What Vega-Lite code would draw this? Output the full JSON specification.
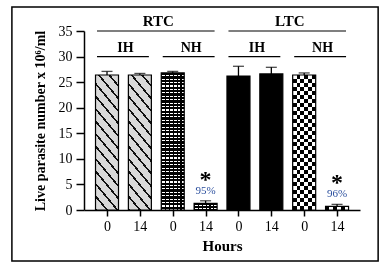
{
  "$schema": "https://vega.github.io/schema/vega-lite/v6.json",
  "width": 276,
  "height": 179,
  "autosize": "none",
  "padding": {"left": 84, "top": 31, "right": 27, "bottom": 57},
  "background": "white",
  "config": {
    "view": {"stroke": null},
    "font": "Liberation Serif",
    "axis": {
      "domainColor": "black", "domainWidth": 1.5, "tickColor": "black", "tickWidth": 1.5,
      "labelColor": "black", "labelFont": "Liberation Serif", "labelFontSize": 14,
      "titleFont": "Liberation Serif", "titleFontWeight": "bold", "titleColor": "black",
      "grid": false, "labelFlush": false, "labelOverlap": false
    }
  },
  "datasets": {
    "bars": [
      {"pos": 1, "site": "RTC", "grp": "IH", "hours": 0, "val": 26.4, "upper": 27.1},
      {"pos": 2, "site": "RTC", "grp": "IH", "hours": 14, "val": 26.4, "upper": 26.7},
      {"pos": 3, "site": "RTC", "grp": "NH", "hours": 0, "val": 26.8, "upper": 27.1},
      {"pos": 4, "site": "RTC", "grp": "NH", "hours": 14, "val": 1.3, "upper": 1.8, "note": "95%"},
      {"pos": 5, "site": "LTC", "grp": "IH", "hours": 0, "val": 26.2, "upper": 28.1},
      {"pos": 6, "site": "LTC", "grp": "IH", "hours": 14, "val": 26.6, "upper": 27.9},
      {"pos": 7, "site": "LTC", "grp": "NH", "hours": 0, "val": 26.4, "upper": 26.8},
      {"pos": 8, "site": "LTC", "grp": "NH", "hours": 14, "val": 0.7, "upper": 1.1, "note": "96%"}
    ],
    "headers": [
      {"label": "RTC", "level": "top", "pos": 1, "pos2": 4, "mid": 2.5, "val": 35},
      {"label": "LTC", "level": "top", "pos": 5, "pos2": 8, "mid": 6.5, "val": 35},
      {"label": "IH", "level": "sub", "pos": 1, "pos2": 2, "mid": 1.5, "val": 30},
      {"label": "NH", "level": "sub", "pos": 3, "pos2": 4, "mid": 3.5, "val": 30},
      {"label": "IH", "level": "sub", "pos": 5, "pos2": 6, "mid": 5.5, "val": 30},
      {"label": "NH", "level": "sub", "pos": 7, "pos2": 8, "mid": 7.5, "val": 30}
    ],
    "frame": [
      {"pos": -1.894, "pos2": 9.25, "val": -9.97, "val2": 39.69}
    ]
  },
  "layer": [
    {
      "data": {"name": "frame"},
      "mark": {"type": "rect", "filled": false, "stroke": "black", "strokeWidth": 1.5},
      "encoding": {
        "x": {"field": "pos", "type": "quantitative", "scale": {"domain": [0.452, 8.546]}, "axis": {"title": "Hours", "titleFontSize": 15, "titlePadding": 5, "values": [1, 2, 3, 4, 5, 6, 7, 8], "labelExpr": "datum.value % 2 == 1 ? '0' : '14'", "tickSize": 6, "labelPadding": 3}},
        "x2": {"field": "pos2"},
        "y": {"field": "val", "type": "quantitative", "scale": {"domain": [0, 35], "nice": false}, "axis": {"title": "Live parasite number x 10⁶/ml", "titleFontSize": 14, "titlePadding": 11, "values": [0, 5, 10, 15, 20, 25, 30, 35], "tickSize": 8, "labelPadding": 4}},
        "y2": {"field": "val2"}
      }
    },
    {
      "data": {"name": "bars"},
      "transform": [{"filter": "datum.site == 'RTC' && datum.grp == 'IH'"}],
      "mark": {"type": "bar", "width": 23, "fill": {
        "gradient": "linear", "x1": 0, "y1": 1, "x2": 0.2364, "y2": -0.1561,
        "stops": [
          {"offset": 0, "color": "#111"}, {"offset": 0.016, "color": "#111"}, {"offset": 0.016, "color": "#d9d9d9"}, {"offset": 0.07692, "color": "#d9d9d9"},
          {"offset": 0.07692, "color": "#111"}, {"offset": 0.09292, "color": "#111"}, {"offset": 0.09292, "color": "#d9d9d9"}, {"offset": 0.15385, "color": "#d9d9d9"},
          {"offset": 0.15385, "color": "#111"}, {"offset": 0.16985, "color": "#111"}, {"offset": 0.16985, "color": "#d9d9d9"}, {"offset": 0.23077, "color": "#d9d9d9"},
          {"offset": 0.23077, "color": "#111"}, {"offset": 0.24677, "color": "#111"}, {"offset": 0.24677, "color": "#d9d9d9"}, {"offset": 0.30769, "color": "#d9d9d9"},
          {"offset": 0.30769, "color": "#111"}, {"offset": 0.32369, "color": "#111"}, {"offset": 0.32369, "color": "#d9d9d9"}, {"offset": 0.38462, "color": "#d9d9d9"},
          {"offset": 0.38462, "color": "#111"}, {"offset": 0.40062, "color": "#111"}, {"offset": 0.40062, "color": "#d9d9d9"}, {"offset": 0.46154, "color": "#d9d9d9"},
          {"offset": 0.46154, "color": "#111"}, {"offset": 0.47754, "color": "#111"}, {"offset": 0.47754, "color": "#d9d9d9"}, {"offset": 0.53846, "color": "#d9d9d9"},
          {"offset": 0.53846, "color": "#111"}, {"offset": 0.55446, "color": "#111"}, {"offset": 0.55446, "color": "#d9d9d9"}, {"offset": 0.61538, "color": "#d9d9d9"},
          {"offset": 0.61538, "color": "#111"}, {"offset": 0.63138, "color": "#111"}, {"offset": 0.63138, "color": "#d9d9d9"}, {"offset": 0.69231, "color": "#d9d9d9"},
          {"offset": 0.69231, "color": "#111"}, {"offset": 0.70831, "color": "#111"}, {"offset": 0.70831, "color": "#d9d9d9"}, {"offset": 0.76923, "color": "#d9d9d9"},
          {"offset": 0.76923, "color": "#111"}, {"offset": 0.78523, "color": "#111"}, {"offset": 0.78523, "color": "#d9d9d9"}, {"offset": 0.84615, "color": "#d9d9d9"},
          {"offset": 0.84615, "color": "#111"}, {"offset": 0.86215, "color": "#111"}, {"offset": 0.86215, "color": "#d9d9d9"}, {"offset": 0.92308, "color": "#d9d9d9"},
          {"offset": 0.92308, "color": "#111"}, {"offset": 0.93908, "color": "#111"}, {"offset": 0.93908, "color": "#d9d9d9"}, {"offset": 1, "color": "#d9d9d9"}
        ]
      }},
      "encoding": {
        "x": {"field": "pos", "type": "quantitative", "scale": {"domain": [0.452, 8.546]}, "axis": {"title": "Hours", "titleFontSize": 15, "titlePadding": 5, "values": [1, 2, 3, 4, 5, 6, 7, 8], "labelExpr": "datum.value % 2 == 1 ? '0' : '14'", "tickSize": 6, "labelPadding": 3}},
        "y": {"field": "val", "type": "quantitative", "scale": {"domain": [0, 35], "nice": false}, "axis": {"title": "Live parasite number x 10⁶/ml", "titleFontSize": 14, "titlePadding": 11, "values": [0, 5, 10, 15, 20, 25, 30, 35], "tickSize": 8, "labelPadding": 4}}
      }
    },
    {
      "data": {"name": "bars"},
      "transform": [{"filter": "datum.pos == 3"}],
      "mark": {"type": "bar", "width": 23, "fill": {
        "gradient": "linear", "x1": 0, "y1": 0, "x2": 0, "y2": 1,
        "stops": [
          {"offset": 0, "color": "#000"}, {"offset": 0.0165, "color": "#000"}, {"offset": 0.0165, "color": "#fff"}, {"offset": 0.025, "color": "#fff"},
          {"offset": 0.025, "color": "#000"}, {"offset": 0.0415, "color": "#000"}, {"offset": 0.0415, "color": "#fff"}, {"offset": 0.05, "color": "#fff"},
          {"offset": 0.05, "color": "#000"}, {"offset": 0.0665, "color": "#000"}, {"offset": 0.0665, "color": "#fff"}, {"offset": 0.075, "color": "#fff"},
          {"offset": 0.075, "color": "#000"}, {"offset": 0.0915, "color": "#000"}, {"offset": 0.0915, "color": "#fff"}, {"offset": 0.1, "color": "#fff"},
          {"offset": 0.1, "color": "#000"}, {"offset": 0.1165, "color": "#000"}, {"offset": 0.1165, "color": "#fff"}, {"offset": 0.125, "color": "#fff"},
          {"offset": 0.125, "color": "#000"}, {"offset": 0.1415, "color": "#000"}, {"offset": 0.1415, "color": "#fff"}, {"offset": 0.15, "color": "#fff"},
          {"offset": 0.15, "color": "#000"}, {"offset": 0.1665, "color": "#000"}, {"offset": 0.1665, "color": "#fff"}, {"offset": 0.175, "color": "#fff"},
          {"offset": 0.175, "color": "#000"}, {"offset": 0.1915, "color": "#000"}, {"offset": 0.1915, "color": "#fff"}, {"offset": 0.2, "color": "#fff"},
          {"offset": 0.2, "color": "#000"}, {"offset": 0.2165, "color": "#000"}, {"offset": 0.2165, "color": "#fff"}, {"offset": 0.225, "color": "#fff"},
          {"offset": 0.225, "color": "#000"}, {"offset": 0.2415, "color": "#000"}, {"offset": 0.2415, "color": "#fff"}, {"offset": 0.25, "color": "#fff"},
          {"offset": 0.25, "color": "#000"}, {"offset": 0.2665, "color": "#000"}, {"offset": 0.2665, "color": "#fff"}, {"offset": 0.275, "color": "#fff"},
          {"offset": 0.275, "color": "#000"}, {"offset": 0.2915, "color": "#000"}, {"offset": 0.2915, "color": "#fff"}, {"offset": 0.3, "color": "#fff"},
          {"offset": 0.3, "color": "#000"}, {"offset": 0.3165, "color": "#000"}, {"offset": 0.3165, "color": "#fff"}, {"offset": 0.325, "color": "#fff"},
          {"offset": 0.325, "color": "#000"}, {"offset": 0.3415, "color": "#000"}, {"offset": 0.3415, "color": "#fff"}, {"offset": 0.35, "color": "#fff"},
          {"offset": 0.35, "color": "#000"}, {"offset": 0.3665, "color": "#000"}, {"offset": 0.3665, "color": "#fff"}, {"offset": 0.375, "color": "#fff"},
          {"offset": 0.375, "color": "#000"}, {"offset": 0.3915, "color": "#000"}, {"offset": 0.3915, "color": "#fff"}, {"offset": 0.4, "color": "#fff"},
          {"offset": 0.4, "color": "#000"}, {"offset": 0.4165, "color": "#000"}, {"offset": 0.4165, "color": "#fff"}, {"offset": 0.425, "color": "#fff"},
          {"offset": 0.425, "color": "#000"}, {"offset": 0.4415, "color": "#000"}, {"offset": 0.4415, "color": "#fff"}, {"offset": 0.45, "color": "#fff"},
          {"offset": 0.45, "color": "#000"}, {"offset": 0.4665, "color": "#000"}, {"offset": 0.4665, "color": "#fff"}, {"offset": 0.475, "color": "#fff"},
          {"offset": 0.475, "color": "#000"}, {"offset": 0.4915, "color": "#000"}, {"offset": 0.4915, "color": "#fff"}, {"offset": 0.5, "color": "#fff"},
          {"offset": 0.5, "color": "#000"}, {"offset": 0.5165, "color": "#000"}, {"offset": 0.5165, "color": "#fff"}, {"offset": 0.525, "color": "#fff"},
          {"offset": 0.525, "color": "#000"}, {"offset": 0.5415, "color": "#000"}, {"offset": 0.5415, "color": "#fff"}, {"offset": 0.55, "color": "#fff"},
          {"offset": 0.55, "color": "#000"}, {"offset": 0.5665, "color": "#000"}, {"offset": 0.5665, "color": "#fff"}, {"offset": 0.575, "color": "#fff"},
          {"offset": 0.575, "color": "#000"}, {"offset": 0.5915, "color": "#000"}, {"offset": 0.5915, "color": "#fff"}, {"offset": 0.6, "color": "#fff"},
          {"offset": 0.6, "color": "#000"}, {"offset": 0.6165, "color": "#000"}, {"offset": 0.6165, "color": "#fff"}, {"offset": 0.625, "color": "#fff"},
          {"offset": 0.625, "color": "#000"}, {"offset": 0.6415, "color": "#000"}, {"offset": 0.6415, "color": "#fff"}, {"offset": 0.65, "color": "#fff"},
          {"offset": 0.65, "color": "#000"}, {"offset": 0.6665, "color": "#000"}, {"offset": 0.6665, "color": "#fff"}, {"offset": 0.675, "color": "#fff"},
          {"offset": 0.675, "color": "#000"}, {"offset": 0.6915, "color": "#000"}, {"offset": 0.6915, "color": "#fff"}, {"offset": 0.7, "color": "#fff"},
          {"offset": 0.7, "color": "#000"}, {"offset": 0.7165, "color": "#000"}, {"offset": 0.7165, "color": "#fff"}, {"offset": 0.725, "color": "#fff"},
          {"offset": 0.725, "color": "#000"}, {"offset": 0.7415, "color": "#000"}, {"offset": 0.7415, "color": "#fff"}, {"offset": 0.75, "color": "#fff"},
          {"offset": 0.75, "color": "#000"}, {"offset": 0.7665, "color": "#000"}, {"offset": 0.7665, "color": "#fff"}, {"offset": 0.775, "color": "#fff"},
          {"offset": 0.775, "color": "#000"}, {"offset": 0.7915, "color": "#000"}, {"offset": 0.7915, "color": "#fff"}, {"offset": 0.8, "color": "#fff"},
          {"offset": 0.8, "color": "#000"}, {"offset": 0.8165, "color": "#000"}, {"offset": 0.8165, "color": "#fff"}, {"offset": 0.825, "color": "#fff"},
          {"offset": 0.825, "color": "#000"}, {"offset": 0.8415, "color": "#000"}, {"offset": 0.8415, "color": "#fff"}, {"offset": 0.85, "color": "#fff"},
          {"offset": 0.85, "color": "#000"}, {"offset": 0.8665, "color": "#000"}, {"offset": 0.8665, "color": "#fff"}, {"offset": 0.875, "color": "#fff"},
          {"offset": 0.875, "color": "#000"}, {"offset": 0.8915, "color": "#000"}, {"offset": 0.8915, "color": "#fff"}, {"offset": 0.9, "color": "#fff"},
          {"offset": 0.9, "color": "#000"}, {"offset": 0.9165, "color": "#000"}, {"offset": 0.9165, "color": "#fff"}, {"offset": 0.925, "color": "#fff"},
          {"offset": 0.925, "color": "#000"}, {"offset": 0.9415, "color": "#000"}, {"offset": 0.9415, "color": "#fff"}, {"offset": 0.95, "color": "#fff"},
          {"offset": 0.95, "color": "#000"}, {"offset": 0.9665, "color": "#000"}, {"offset": 0.9665, "color": "#fff"}, {"offset": 0.975, "color": "#fff"},
          {"offset": 0.975, "color": "#000"}, {"offset": 0.9915, "color": "#000"}, {"offset": 0.9915, "color": "#fff"}, {"offset": 1, "color": "#fff"}
        ]
      }},
      "encoding": {
        "x": {"field": "pos", "type": "quantitative", "scale": {"domain": [0.452, 8.546]}, "axis": {"title": "Hours", "titleFontSize": 15, "titlePadding": 5, "values": [1, 2, 3, 4, 5, 6, 7, 8], "labelExpr": "datum.value % 2 == 1 ? '0' : '14'", "tickSize": 6, "labelPadding": 3}},
        "y": {"field": "val", "type": "quantitative", "scale": {"domain": [0, 35], "nice": false}, "axis": {"title": "Live parasite number x 10⁶/ml", "titleFontSize": 14, "titlePadding": 11, "values": [0, 5, 10, 15, 20, 25, 30, 35], "tickSize": 8, "labelPadding": 4}}
      }
    },
    {
      "data": {"name": "bars"},
      "transform": [{"filter": "datum.pos == 4"}],
      "mark": {"type": "bar", "width": 23, "fill": {
        "gradient": "linear", "x1": 0, "y1": 0, "x2": 0, "y2": 1,
        "stops": [
          {"offset": 0, "color": "#000"}, {"offset": 0.25, "color": "#000"}, {"offset": 0.25, "color": "#fff"}, {"offset": 0.42, "color": "#fff"},
          {"offset": 0.42, "color": "#000"}, {"offset": 0.68, "color": "#000"}, {"offset": 0.68, "color": "#fff"}, {"offset": 0.84, "color": "#fff"},
          {"offset": 0.84, "color": "#000"}, {"offset": 1, "color": "#000"}
        ]
      }},
      "encoding": {
        "x": {"field": "pos", "type": "quantitative", "scale": {"domain": [0.452, 8.546]}, "axis": {"title": "Hours", "titleFontSize": 15, "titlePadding": 5, "values": [1, 2, 3, 4, 5, 6, 7, 8], "labelExpr": "datum.value % 2 == 1 ? '0' : '14'", "tickSize": 6, "labelPadding": 3}},
        "y": {"field": "val", "type": "quantitative", "scale": {"domain": [0, 35], "nice": false}, "axis": {"title": "Live parasite number x 10⁶/ml", "titleFontSize": 14, "titlePadding": 11, "values": [0, 5, 10, 15, 20, 25, 30, 35], "tickSize": 8, "labelPadding": 4}}
      }
    },
    {
      "data": {"name": "bars"},
      "transform": [{"filter": "datum.site == 'RTC' && datum.grp == 'NH'"}],
      "mark": {"type": "bar", "width": 23, "fill": {
        "gradient": "linear", "x1": 0, "y1": 0, "x2": 1, "y2": 0,
        "stops": [
          {"offset": 0, "color": "#000"}, {"offset": 0.05, "color": "#000"}, {"offset": 0.05, "color": "rgba(0,0,0,0)"}, {"offset": 0.16667, "color": "rgba(0,0,0,0)"},
          {"offset": 0.16667, "color": "#000"}, {"offset": 0.21667, "color": "#000"}, {"offset": 0.21667, "color": "rgba(0,0,0,0)"}, {"offset": 0.33333, "color": "rgba(0,0,0,0)"},
          {"offset": 0.33333, "color": "#000"}, {"offset": 0.38333, "color": "#000"}, {"offset": 0.38333, "color": "rgba(0,0,0,0)"}, {"offset": 0.5, "color": "rgba(0,0,0,0)"},
          {"offset": 0.5, "color": "#000"}, {"offset": 0.55, "color": "#000"}, {"offset": 0.55, "color": "rgba(0,0,0,0)"}, {"offset": 0.66667, "color": "rgba(0,0,0,0)"},
          {"offset": 0.66667, "color": "#000"}, {"offset": 0.71667, "color": "#000"}, {"offset": 0.71667, "color": "rgba(0,0,0,0)"}, {"offset": 0.83333, "color": "rgba(0,0,0,0)"},
          {"offset": 0.83333, "color": "#000"}, {"offset": 0.88333, "color": "#000"}, {"offset": 0.88333, "color": "rgba(0,0,0,0)"}, {"offset": 1, "color": "rgba(0,0,0,0)"}
        ]
      }},
      "encoding": {
        "x": {"field": "pos", "type": "quantitative", "scale": {"domain": [0.452, 8.546]}, "axis": {"title": "Hours", "titleFontSize": 15, "titlePadding": 5, "values": [1, 2, 3, 4, 5, 6, 7, 8], "labelExpr": "datum.value % 2 == 1 ? '0' : '14'", "tickSize": 6, "labelPadding": 3}},
        "y": {"field": "val", "type": "quantitative", "scale": {"domain": [0, 35], "nice": false}, "axis": {"title": "Live parasite number x 10⁶/ml", "titleFontSize": 14, "titlePadding": 11, "values": [0, 5, 10, 15, 20, 25, 30, 35], "tickSize": 8, "labelPadding": 4}}
      }
    },
    {
      "data": {"name": "bars"},
      "transform": [{"filter": "datum.site == 'LTC' && datum.grp == 'IH'"}],
      "mark": {"type": "bar", "width": 23, "fill": "#000"},
      "encoding": {
        "x": {"field": "pos", "type": "quantitative", "scale": {"domain": [0.452, 8.546]}, "axis": {"title": "Hours", "titleFontSize": 15, "titlePadding": 5, "values": [1, 2, 3, 4, 5, 6, 7, 8], "labelExpr": "datum.value % 2 == 1 ? '0' : '14'", "tickSize": 6, "labelPadding": 3}},
        "y": {"field": "val", "type": "quantitative", "scale": {"domain": [0, 35], "nice": false}, "axis": {"title": "Live parasite number x 10⁶/ml", "titleFontSize": 14, "titlePadding": 11, "values": [0, 5, 10, 15, 20, 25, 30, 35], "tickSize": 8, "labelPadding": 4}}
      }
    },
    {
      "data": {"name": "bars"},
      "transform": [{"filter": "datum.site == 'LTC' && datum.grp == 'NH'"}],
      "mark": {"type": "bar", "width": 23, "fill": {
        "gradient": "linear", "x1": 0, "y1": 0, "x2": 1, "y2": 0,
        "stops": [
          {"offset": 0, "color": "#000"}, {"offset": 0.16667, "color": "#000"}, {"offset": 0.16667, "color": "#fff"}, {"offset": 0.33333, "color": "#fff"},
          {"offset": 0.33333, "color": "#000"}, {"offset": 0.5, "color": "#000"}, {"offset": 0.5, "color": "#fff"}, {"offset": 0.66667, "color": "#fff"},
          {"offset": 0.66667, "color": "#000"}, {"offset": 0.83333, "color": "#000"}, {"offset": 0.83333, "color": "#fff"}, {"offset": 1, "color": "#fff"}
        ]
      }},
      "encoding": {
        "x": {"field": "pos", "type": "quantitative", "scale": {"domain": [0.452, 8.546]}, "axis": {"title": "Hours", "titleFontSize": 15, "titlePadding": 5, "values": [1, 2, 3, 4, 5, 6, 7, 8], "labelExpr": "datum.value % 2 == 1 ? '0' : '14'", "tickSize": 6, "labelPadding": 3}},
        "y": {"field": "val", "type": "quantitative", "scale": {"domain": [0, 35], "nice": false}, "axis": {"title": "Live parasite number x 10⁶/ml", "titleFontSize": 14, "titlePadding": 11, "values": [0, 5, 10, 15, 20, 25, 30, 35], "tickSize": 8, "labelPadding": 4}}
      }
    },
    {
      "data": {"name": "bars"},
      "transform": [{"filter": "datum.pos == 7"}],
      "mark": {"type": "bar", "width": 23, "blend": "difference", "fill": {
        "gradient": "linear", "x1": 0, "y1": 0, "x2": 0, "y2": 1,
        "stops": [
          {"offset": 0, "color": "#fff"}, {"offset": 0.02941, "color": "#fff"}, {"offset": 0.02941, "color": "#000"}, {"offset": 0.05882, "color": "#000"},
          {"offset": 0.05882, "color": "#fff"}, {"offset": 0.08824, "color": "#fff"}, {"offset": 0.08824, "color": "#000"}, {"offset": 0.11765, "color": "#000"},
          {"offset": 0.11765, "color": "#fff"}, {"offset": 0.14706, "color": "#fff"}, {"offset": 0.14706, "color": "#000"}, {"offset": 0.17647, "color": "#000"},
          {"offset": 0.17647, "color": "#fff"}, {"offset": 0.20588, "color": "#fff"}, {"offset": 0.20588, "color": "#000"}, {"offset": 0.23529, "color": "#000"},
          {"offset": 0.23529, "color": "#fff"}, {"offset": 0.26471, "color": "#fff"}, {"offset": 0.26471, "color": "#000"}, {"offset": 0.29412, "color": "#000"},
          {"offset": 0.29412, "color": "#fff"}, {"offset": 0.32353, "color": "#fff"}, {"offset": 0.32353, "color": "#000"}, {"offset": 0.35294, "color": "#000"},
          {"offset": 0.35294, "color": "#fff"}, {"offset": 0.38235, "color": "#fff"}, {"offset": 0.38235, "color": "#000"}, {"offset": 0.41176, "color": "#000"},
          {"offset": 0.41176, "color": "#fff"}, {"offset": 0.44118, "color": "#fff"}, {"offset": 0.44118, "color": "#000"}, {"offset": 0.47059, "color": "#000"},
          {"offset": 0.47059, "color": "#fff"}, {"offset": 0.5, "color": "#fff"}, {"offset": 0.5, "color": "#000"}, {"offset": 0.52941, "color": "#000"},
          {"offset": 0.52941, "color": "#fff"}, {"offset": 0.55882, "color": "#fff"}, {"offset": 0.55882, "color": "#000"}, {"offset": 0.58824, "color": "#000"},
          {"offset": 0.58824, "color": "#fff"}, {"offset": 0.61765, "color": "#fff"}, {"offset": 0.61765, "color": "#000"}, {"offset": 0.64706, "color": "#000"},
          {"offset": 0.64706, "color": "#fff"}, {"offset": 0.67647, "color": "#fff"}, {"offset": 0.67647, "color": "#000"}, {"offset": 0.70588, "color": "#000"},
          {"offset": 0.70588, "color": "#fff"}, {"offset": 0.73529, "color": "#fff"}, {"offset": 0.73529, "color": "#000"}, {"offset": 0.76471, "color": "#000"},
          {"offset": 0.76471, "color": "#fff"}, {"offset": 0.79412, "color": "#fff"}, {"offset": 0.79412, "color": "#000"}, {"offset": 0.82353, "color": "#000"},
          {"offset": 0.82353, "color": "#fff"}, {"offset": 0.85294, "color": "#fff"}, {"offset": 0.85294, "color": "#000"}, {"offset": 0.88235, "color": "#000"},
          {"offset": 0.88235, "color": "#fff"}, {"offset": 0.91176, "color": "#fff"}, {"offset": 0.91176, "color": "#000"}, {"offset": 0.94118, "color": "#000"},
          {"offset": 0.94118, "color": "#fff"}, {"offset": 0.97059, "color": "#fff"}, {"offset": 0.97059, "color": "#000"}, {"offset": 1, "color": "#000"}
        ]
      }},
      "encoding": {
        "x": {"field": "pos", "type": "quantitative", "scale": {"domain": [0.452, 8.546]}, "axis": {"title": "Hours", "titleFontSize": 15, "titlePadding": 5, "values": [1, 2, 3, 4, 5, 6, 7, 8], "labelExpr": "datum.value % 2 == 1 ? '0' : '14'", "tickSize": 6, "labelPadding": 3}},
        "y": {"field": "val", "type": "quantitative", "scale": {"domain": [0, 35], "nice": false}, "axis": {"title": "Live parasite number x 10⁶/ml", "titleFontSize": 14, "titlePadding": 11, "values": [0, 5, 10, 15, 20, 25, 30, 35], "tickSize": 8, "labelPadding": 4}}
      }
    },
    {
      "data": {"name": "bars"},
      "mark": {"type": "bar", "width": 23, "filled": false, "stroke": "black", "strokeWidth": 1.2},
      "encoding": {
        "x": {"field": "pos", "type": "quantitative", "scale": {"domain": [0.452, 8.546]}, "axis": {"title": "Hours", "titleFontSize": 15, "titlePadding": 5, "values": [1, 2, 3, 4, 5, 6, 7, 8], "labelExpr": "datum.value % 2 == 1 ? '0' : '14'", "tickSize": 6, "labelPadding": 3}},
        "y": {"field": "val", "type": "quantitative", "scale": {"domain": [0, 35], "nice": false}, "axis": {"title": "Live parasite number x 10⁶/ml", "titleFontSize": 14, "titlePadding": 11, "values": [0, 5, 10, 15, 20, 25, 30, 35], "tickSize": 8, "labelPadding": 4}}
      }
    },
    {
      "data": {"name": "bars"},
      "mark": {"type": "rule", "color": "black", "strokeWidth": 1.3},
      "encoding": {
        "x": {"field": "pos", "type": "quantitative", "scale": {"domain": [0.452, 8.546]}, "axis": {"title": "Hours", "titleFontSize": 15, "titlePadding": 5, "values": [1, 2, 3, 4, 5, 6, 7, 8], "labelExpr": "datum.value % 2 == 1 ? '0' : '14'", "tickSize": 6, "labelPadding": 3}},
        "y": {"field": "val", "type": "quantitative", "scale": {"domain": [0, 35], "nice": false}, "axis": {"title": "Live parasite number x 10⁶/ml", "titleFontSize": 14, "titlePadding": 11, "values": [0, 5, 10, 15, 20, 25, 30, 35], "tickSize": 8, "labelPadding": 4}},
        "y2": {"field": "upper"}
      }
    },
    {
      "data": {"name": "bars"},
      "mark": {"type": "tick", "orient": "horizontal", "color": "black", "size": 11, "thickness": 1.3},
      "encoding": {
        "x": {"field": "pos", "type": "quantitative", "scale": {"domain": [0.452, 8.546]}, "axis": {"title": "Hours", "titleFontSize": 15, "titlePadding": 5, "values": [1, 2, 3, 4, 5, 6, 7, 8], "labelExpr": "datum.value % 2 == 1 ? '0' : '14'", "tickSize": 6, "labelPadding": 3}},
        "y": {"field": "upper", "type": "quantitative", "scale": {"domain": [0, 35], "nice": false}, "axis": {"title": "Live parasite number x 10⁶/ml", "titleFontSize": 14, "titlePadding": 11, "values": [0, 5, 10, 15, 20, 25, 30, 35], "tickSize": 8, "labelPadding": 4}}
      }
    },
    {
      "data": {"name": "headers"},
      "mark": {"type": "rule", "color": "black", "strokeWidth": 1.2, "xOffset": -10, "x2Offset": 9},
      "encoding": {
        "x": {"field": "pos", "type": "quantitative", "scale": {"domain": [0.452, 8.546]}, "axis": {"title": "Hours", "titleFontSize": 15, "titlePadding": 5, "values": [1, 2, 3, 4, 5, 6, 7, 8], "labelExpr": "datum.value % 2 == 1 ? '0' : '14'", "tickSize": 6, "labelPadding": 3}},
        "x2": {"field": "pos2"},
        "y": {"field": "val", "type": "quantitative", "scale": {"domain": [0, 35], "nice": false}, "axis": {"title": "Live parasite number x 10⁶/ml", "titleFontSize": 14, "titlePadding": 11, "values": [0, 5, 10, 15, 20, 25, 30, 35], "tickSize": 8, "labelPadding": 4}}
      }
    },
    {
      "data": {"name": "headers"},
      "transform": [{"filter": "datum.level == 'top'"}],
      "mark": {"type": "text", "font": "Liberation Serif", "fontWeight": "bold", "fontSize": 15, "dy": -5, "dx": 2, "baseline": "alphabetic", "color": "black"},
      "encoding": {
        "x": {"field": "mid", "type": "quantitative", "scale": {"domain": [0.452, 8.546]}, "axis": {"title": "Hours", "titleFontSize": 15, "titlePadding": 5, "values": [1, 2, 3, 4, 5, 6, 7, 8], "labelExpr": "datum.value % 2 == 1 ? '0' : '14'", "tickSize": 6, "labelPadding": 3}},
        "y": {"field": "val", "type": "quantitative", "scale": {"domain": [0, 35], "nice": false}, "axis": {"title": "Live parasite number x 10⁶/ml", "titleFontSize": 14, "titlePadding": 11, "values": [0, 5, 10, 15, 20, 25, 30, 35], "tickSize": 8, "labelPadding": 4}},
        "text": {"field": "label"}
      }
    },
    {
      "data": {"name": "headers"},
      "transform": [{"filter": "datum.level == 'sub'"}],
      "mark": {"type": "text", "font": "Liberation Serif", "fontWeight": "bold", "fontSize": 14, "dy": -5, "dx": 2, "baseline": "alphabetic", "color": "black"},
      "encoding": {
        "x": {"field": "mid", "type": "quantitative", "scale": {"domain": [0.452, 8.546]}, "axis": {"title": "Hours", "titleFontSize": 15, "titlePadding": 5, "values": [1, 2, 3, 4, 5, 6, 7, 8], "labelExpr": "datum.value % 2 == 1 ? '0' : '14'", "tickSize": 6, "labelPadding": 3}},
        "y": {"field": "val", "type": "quantitative", "scale": {"domain": [0, 35], "nice": false}, "axis": {"title": "Live parasite number x 10⁶/ml", "titleFontSize": 14, "titlePadding": 11, "values": [0, 5, 10, 15, 20, 25, 30, 35], "tickSize": 8, "labelPadding": 4}},
        "text": {"field": "label"}
      }
    },
    {
      "data": {"name": "bars"},
      "transform": [{"filter": "datum.note != null"}],
      "mark": {"type": "text", "font": "Liberation Serif", "fontWeight": "bold", "fontSize": 24, "dy": -14, "baseline": "alphabetic", "color": "black", "text": "*"},
      "encoding": {
        "x": {"field": "pos", "type": "quantitative", "scale": {"domain": [0.452, 8.546]}, "axis": {"title": "Hours", "titleFontSize": 15, "titlePadding": 5, "values": [1, 2, 3, 4, 5, 6, 7, 8], "labelExpr": "datum.value % 2 == 1 ? '0' : '14'", "tickSize": 6, "labelPadding": 3}},
        "y": {"field": "upper", "type": "quantitative", "scale": {"domain": [0, 35], "nice": false}, "axis": {"title": "Live parasite number x 10⁶/ml", "titleFontSize": 14, "titlePadding": 11, "values": [0, 5, 10, 15, 20, 25, 30, 35], "tickSize": 8, "labelPadding": 4}}
      }
    },
    {
      "data": {"name": "bars"},
      "transform": [{"filter": "datum.note != null"}],
      "mark": {"type": "text", "font": "Liberation Serif", "fontSize": 11, "dy": -7, "baseline": "alphabetic", "color": "#2b4f9e"},
      "encoding": {
        "x": {"field": "pos", "type": "quantitative", "scale": {"domain": [0.452, 8.546]}, "axis": {"title": "Hours", "titleFontSize": 15, "titlePadding": 5, "values": [1, 2, 3, 4, 5, 6, 7, 8], "labelExpr": "datum.value % 2 == 1 ? '0' : '14'", "tickSize": 6, "labelPadding": 3}},
        "y": {"field": "upper", "type": "quantitative", "scale": {"domain": [0, 35], "nice": false}, "axis": {"title": "Live parasite number x 10⁶/ml", "titleFontSize": 14, "titlePadding": 11, "values": [0, 5, 10, 15, 20, 25, 30, 35], "tickSize": 8, "labelPadding": 4}},
        "text": {"field": "note"}
      }
    }
  ]
}
